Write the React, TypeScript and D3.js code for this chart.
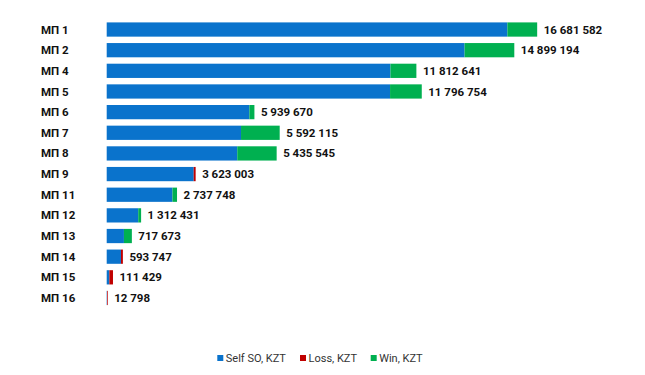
import React from "react";
import * as d3 from "d3";

const categories = ["МП 1", "МП 2", "МП 4", "МП 5", "МП 6", "МП 7", "МП 8", "МП 9", "МП 11", "МП 12", "МП 13", "МП 14", "МП 15", "МП 16"];
const selfSO = [16681582, 14899194, 11812641, 11796754, 5939670, 5592115, 5435545, 3623003, 2737748, 1312431, 717673, 593747, 111429, 12798];
const loss = [0, 0, 0, 0, 0, 0, 0, 80000, 0, 0, 0, 80000, 150000, 30000];
const win = [1240000, 2070000, 1080000, 1320000, 210000, 1610000, 1640000, 0, 190000, 120000, 330000, 0, 0, 0];
const seriesNames = ["Self SO, KZT", "Loss, KZT", "Win, KZT"];
const colors = ["#0A73CC", "#C00000", "#00B050"];

const fmt = (v: number) => d3.format(",")(v).replace(/,/g, " ");

export default function App() {
  const W = 645, H = 375;
  const x = d3.scaleLinear().domain([0, 1e6]).range([0, 24.02]);
  const x0 = 106.7;
  const y = d3.scaleBand<string>().domain(categories).range([19.2, 308.3]).paddingInner(0.31).paddingOuter(0.155);
  const rows = categories.map((c, i) => ({ c, vals: [selfSO[i], loss[i], win[i]], label: selfSO[i] }));
  const font = "Roboto, 'Noto Sans', Arial, sans-serif";
  const legendX = [217.3, 300, 370.7];
  return (
    <svg width={W} height={H} style={{ position: "absolute", left: 0, top: 0 }}>
      <rect width={W} height={H} fill="#fff" />
      {rows.map((r, i) => {
        let acc = 0;
        const yy = y(r.c)!;
        const rects = r.vals.map((v, k) => {
          const start = acc;
          acc += v;
          if (v <= 0) return null;
          return <rect key={k} x={x0 + x(start)} y={yy} width={x(v)} height={y.bandwidth()} fill={colors[k]} />;
        });
        return (
          <g key={r.c}>
            <text x={41} y={yy + y.bandwidth() / 2} dy="0.35em" fontFamily={font} fontWeight={700} fontSize={11.5} fill="#111">{r.c}</text>
            {rects}
            <text x={x0 + x(acc) + 6.5} y={yy + y.bandwidth() / 2} dy="0.35em" fontFamily={font} fontWeight={700} fontSize={11.5} fill="#111">{fmt(r.label)}</text>
          </g>
        );
      })}
      {seriesNames.map((n, k) => (
        <g key={n}>
          <rect x={legendX[k]} y={355} width={6} height={6} fill={colors[k]} />
          <text x={legendX[k] + 8.5} y={358.3} dy="0.35em" fontFamily={font} fontSize={11} fill="#333">{n}</text>
        </g>
      ))}
    </svg>
  );
}
